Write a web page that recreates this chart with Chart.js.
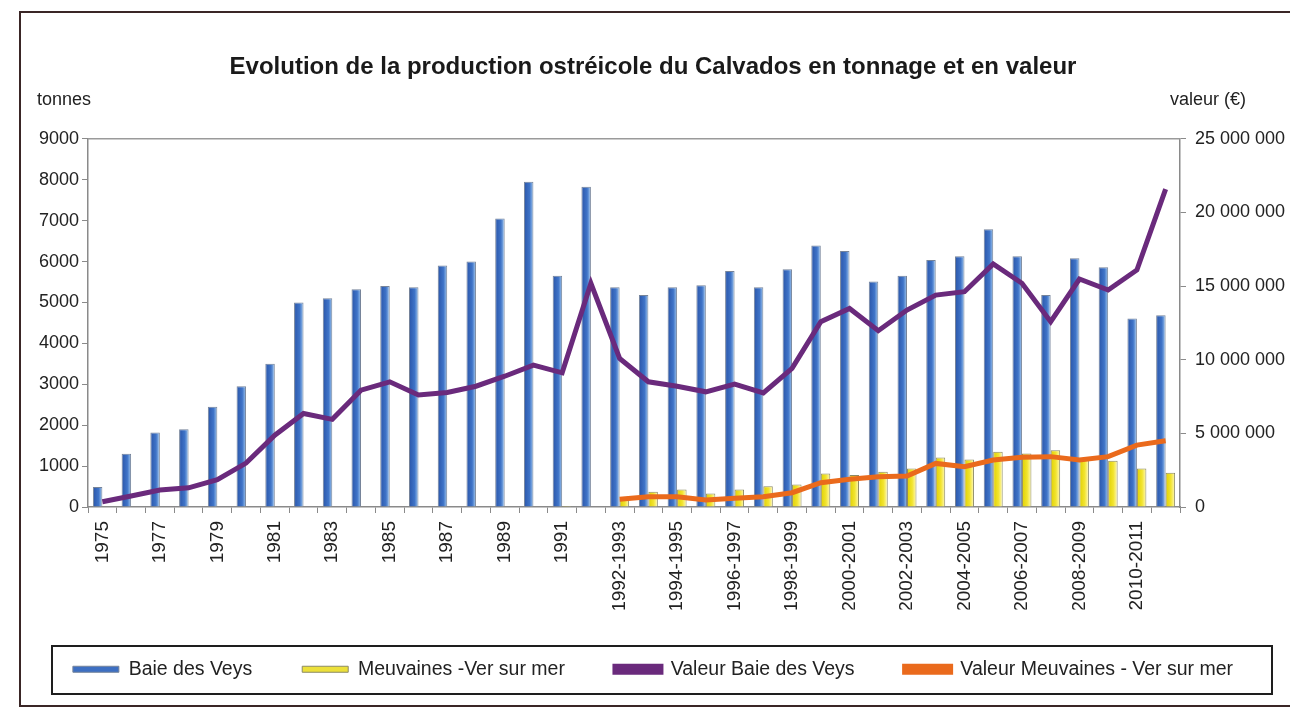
<!DOCTYPE html>
<html lang="fr">
<head>
<meta charset="utf-8">
<title>Production ostréicole du Calvados</title>
<script src="https://cdn.jsdelivr.net/npm/chart.js@4.4.1/dist/chart.umd.min.js"></script>
<style>
  html, body { margin: 0; padding: 0; background: #fff; }
  #wrap { width: 1290px; height: 712px; position: relative; }
</style>
</head>
<body>
<div id="wrap"><canvas id="ostreiculture" width="1290" height="712"></canvas></div>
<script>
// campagnes : années civiles jusqu'en 1991, puis saisons
const campagnes = ['1975','1976','1977','1978','1979','1980','1981','1982','1983','1984',
  '1985','1986','1987','1988','1989','1990','1991','1991-1992','1992-1993','1993-1994',
  '1994-1995','1995-1996','1996-1997','1997-1998','1998-1999','1999-2000','2000-2001',
  '2001-2002','2002-2003','2003-2004','2004-2005','2005-2006','2006-2007','2007-2008',
  '2008-2009','2009-2010','2010-2011','2011-2012']

// tonnages (t)
const tonnesBaie = [490,1300,1820,1900,2450,2950,3500,5000,5100,5320,
  5400,5370,5900,6000,7050,7950,5650,7830,5370,5180,
  5370,5420,5770,5370,5810,6390,6260,5510,5650,6040,
  6130,6790,6130,5180,6080,5860,4610,4690]
const tonnesMeuvaines = [null,null,null,null,null,null,null,null,null,null,
  null,null,null,null,null,null,25,null,200,375,
  430,330,430,510,550,820,780,860,940,1210,
  1160,1350,1310,1390,1180,1130,940,840]

// valeurs (€)
const valeurBaie = [360000,750000,1150000,1300000,1850000,2980000,4870000,6350000,5950000,7930000,
  8500000,7600000,7770000,8200000,8880000,9630000,9110000,15190000,10090000,8500000,
  8200000,7820000,8340000,7750000,9410000,12580000,13480000,11970000,13370000,14390000,
  14620000,16500000,15190000,12580000,15480000,14730000,16090000,21580000]
const valeurMeuvaines = [null,null,null,null,null,null,null,null,null,null,
  null,null,null,null,null,null,null,null,520000,700000,
  700000,480000,590000,700000,970000,1650000,1890000,2060000,2100000,2960000,
  2740000,3190000,3370000,3420000,3190000,3420000,4200000,4500000]

const ticksTonnes = [0,1000,2000,3000,4000,5000,6000,7000,8000,9000]
const ticksValeur = [0,5000000,10000000,15000000,20000000,25000000]

const POLICE = "'Liberation Sans', Arial, sans-serif"
const CAT_PCT = 0.66
const BAR_PCT = 1

const BLEU = '#3d6fc2'
const JAUNE = '#ece03a'

// dégradé horizontal façon tableur sur chaque barre
function degradeBarre(stops, uni){
  return function(c){
    const chart = c.chart
    if (c.type !== 'data' || !chart.chartArea) return uni
    const xs = chart.scales.x
    const cat = xs.width / campagnes.length
    const groupe = cat * CAT_PCT
    const centre = xs.getPixelForValue(c.dataIndex) + (c.datasetIndex === 0 ? -groupe/4 : groupe/4)
    const demi = groupe/2 * BAR_PCT / 2
    const g = chart.ctx.createLinearGradient(centre - demi, 0, centre + demi, 0)
    stops.forEach(s => g.addColorStop(s[0], s[1]))
    return g
  }
}

const espaces = v => String(v).replace(/\B(?=(\d{3})+(?!\d))/g, ' ')

const cadres = {
  id: 'cadres',
  beforeDatasetsDraw(chart){
    const {ctx, chartArea: a} = chart
    ctx.save()
    ctx.strokeStyle = '#9a9a9a'
    ctx.lineWidth = 1.5
    ctx.beginPath()
    ctx.moveTo(a.left, a.top)
    ctx.lineTo(a.right, a.top)
    ctx.stroke()
    ctx.restore()
  },
  afterDraw(chart){
    const ctx = chart.ctx
    ctx.save()
    // cadre général
    ctx.strokeStyle = '#3a2626'
    ctx.lineWidth = 2
    ctx.strokeRect(20, 12, 1290, 694)
    // cadre de la légende
    ctx.strokeStyle = '#1e1e1e'
    ctx.strokeRect(52, 646, 1220, 48)
    // unités des axes
    ctx.font = '18px ' + POLICE
    ctx.fillStyle = '#222'
    ctx.textBaseline = 'middle'
    ctx.textAlign = 'left'
    ctx.fillText('tonnes', 37, 100)
    ctx.fillText('valeur (€)', 1170, 100)
    ctx.restore()
  }
}

const ctx = document.getElementById('ostreiculture')
const myChart = new Chart(ctx, {
  type: 'bar',
  data: {
    labels: campagnes,
    datasets: [{
      label: 'Baie des Veys',
      data: tonnesBaie,
      yAxisID: 'y',
      order: 2,
      backgroundColor: degradeBarre([[0,'#2a55a8'],[0.6,'#3f74c8'],[1,'#a2c8ee']], BLEU),
      borderColor: '#76849a',
      borderWidth: 1,
      categoryPercentage: CAT_PCT,
      barPercentage: BAR_PCT
    },{
      label: 'Meuvaines -Ver sur mer',
      data: tonnesMeuvaines,
      yAxisID: 'y',
      order: 2,
      backgroundColor: degradeBarre([[0,'#e0d000'],[0.55,'#f2e430'],[1,'#fff9c0']], JAUNE),
      borderColor: '#8c8a66',
      borderWidth: 1,
      categoryPercentage: CAT_PCT,
      barPercentage: BAR_PCT
    },{
      type: 'line',
      label: 'Valeur Baie des Veys',
      data: valeurBaie,
      yAxisID: 'y1',
      order: 1,
      borderColor: '#6a2a7c',
      backgroundColor: '#6a2a7c',
      borderWidth: 5,
      pointRadius: 0,
      tension: 0
    },{
      type: 'line',
      label: 'Valeur Meuvaines - Ver sur mer',
      data: valeurMeuvaines,
      yAxisID: 'y1',
      order: 0,
      borderColor: '#ea6a1c',
      backgroundColor: '#ea6a1c',
      borderWidth: 5,
      pointRadius: 0,
      tension: 0
    }]
  },
  options: {
    responsive: false,
    animation: false,
    layout: { padding: { left: 16, right: 0, top: 0, bottom: 23 } },
    plugins: {
      title: {
        display: true,
        text: 'Evolution de la production ostréicole du Calvados en tonnage et en valeur',
        color: '#1a1a1a',
        font: { family: POLICE, size: 24, weight: 'bold' },
        padding: { top: 53, bottom: 57 }
      },
      legend: {
        position: 'bottom',
        labels: {
          color: '#222',
          font: { family: POLICE, size: 19.5 },
          boxWidth: 46,
          boxHeight: 6,
          padding: 50,
          sort: (a, b) => a.datasetIndex - b.datasetIndex,
          generateLabels(chart){
            const items = Chart.defaults.plugins.legend.labels.generateLabels(chart)
            items.forEach(it => {
              if (it.datasetIndex === 0) it.fillStyle = BLEU
              if (it.datasetIndex === 1) it.fillStyle = JAUNE
            })
            return items
          }
        }
      },
      tooltip: { enabled: false }
    },
    scales: {
      x: {
        grid: { drawOnChartArea: false, drawTicks: true, tickLength: 6, color: '#8a8a8a', offset: true },
        border: { display: true, color: '#8a8a8a', width: 1.5 },
        ticks: {
          autoSkip: false,
          minRotation: 90,
          maxRotation: 90,
          padding: 8,
          color: '#222',
          font: { family: POLICE, size: 19 },
          callback: function(v, i){ return i % 2 === 0 ? campagnes[i] : '' }
        },
        afterFit: s => { s.height = 102.5 }
      },
      y: {
        position: 'left',
        min: 0,
        max: 9000,
        afterBuildTicks: s => { s.ticks = ticksTonnes.map(v => ({value: v})) },
        grid: { drawOnChartArea: false, tickLength: 6, color: '#8a8a8a' },
        border: { display: true, color: '#8a8a8a', width: 1.5 },
        ticks: { color: '#222', font: { family: POLICE, size: 18 }, padding: 3, callback: v => String(v) },
        afterFit: s => { s.width = 72 }
      },
      y1: {
        position: 'right',
        min: 0,
        max: 25000000,
        afterBuildTicks: s => { s.ticks = ticksValeur.map(v => ({value: v})) },
        grid: { drawOnChartArea: false, tickLength: 6, color: '#8a8a8a' },
        border: { display: true, color: '#8a8a8a', width: 1.5 },
        ticks: { color: '#222', font: { family: POLICE, size: 18 }, padding: 9, callback: v => espaces(v) },
        afterFit: s => { s.width = 110 }
      }
    }
  },
  plugins: [cadres]
})
</script>
</body>
</html>
